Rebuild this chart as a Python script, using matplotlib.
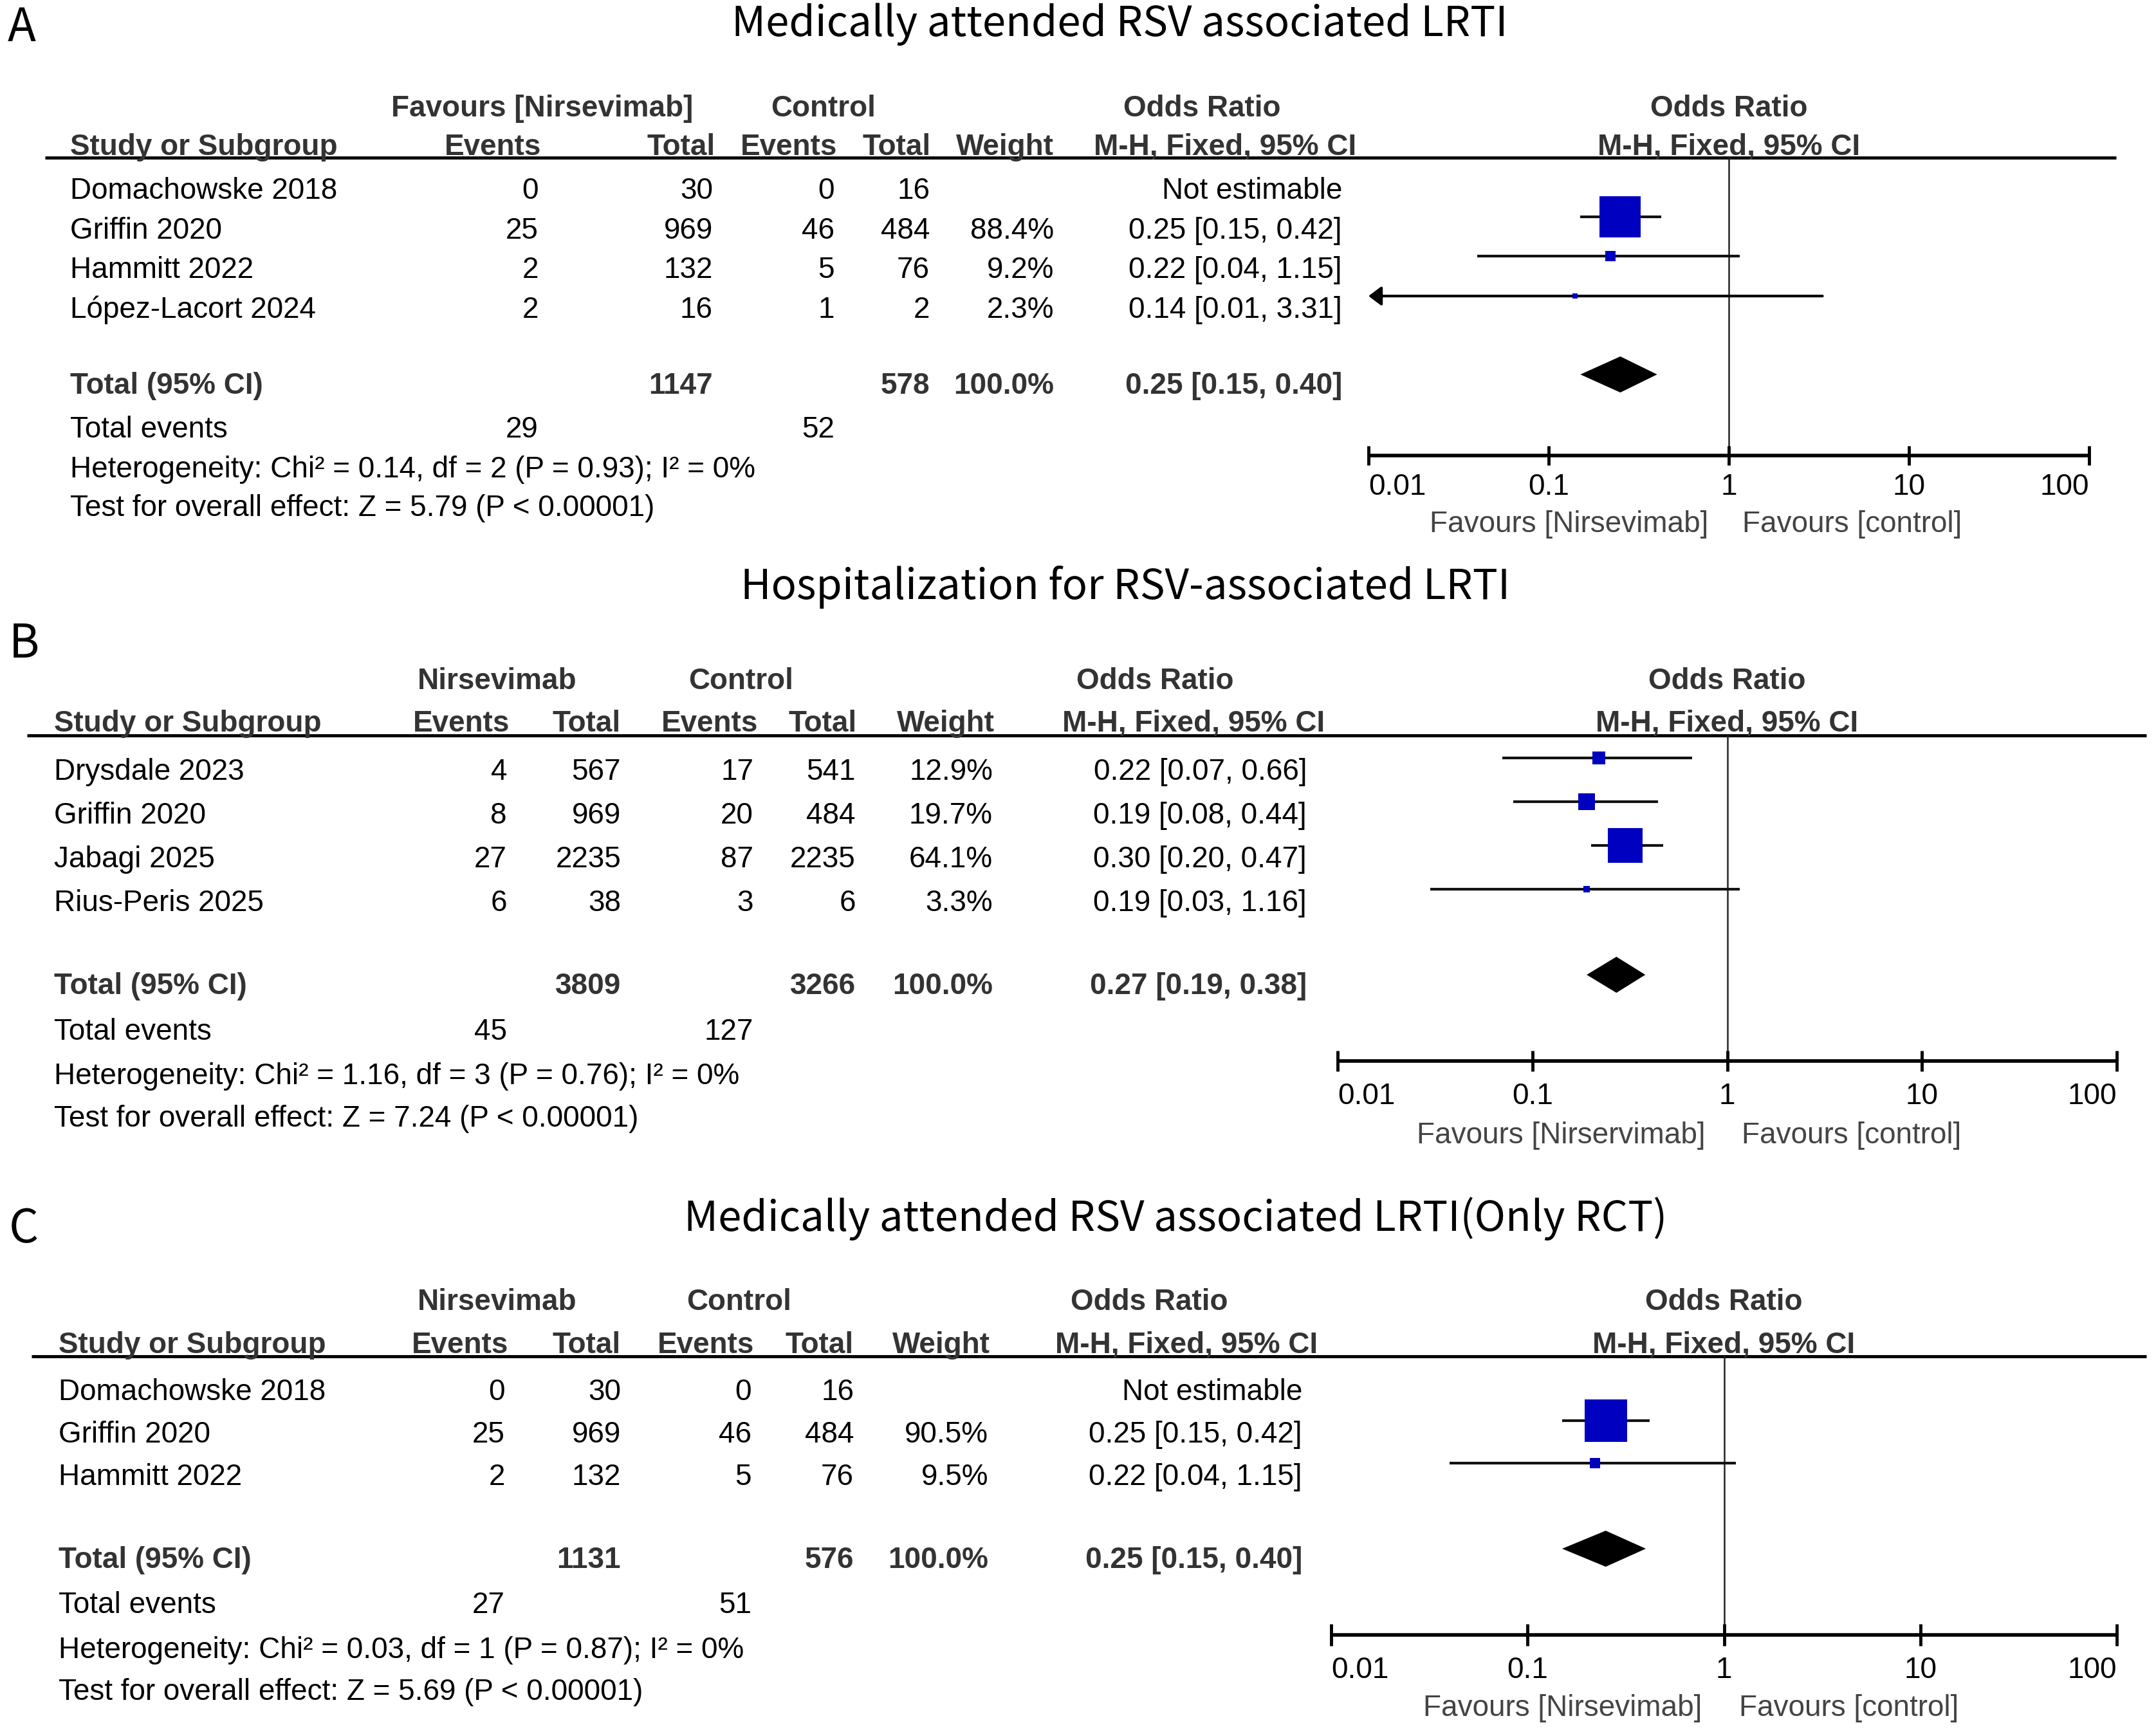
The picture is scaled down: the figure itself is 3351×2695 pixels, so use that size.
import matplotlib
matplotlib.use("Agg")
import matplotlib.pyplot as plt
from matplotlib.patches import Polygon

W, H = 3351, 2695
TABLE_FONT = "Liberation Sans"
TITLE_FONT = ["Noto Sans CJK SC", "DejaVu Sans"]
BLUE = "#0000C0"
HEAD = "#333333"
GREY = "#444444"

# ---- panel A: medically attended RSV LRTI ----
a_studies = ["Domachowske 2018", "Griffin 2020", "Hammitt 2022", "López-Lacort 2024"]
a_ev_t = [0, 25, 2, 2]
a_tot_t = [30, 969, 132, 16]
a_ev_c = [0, 46, 5, 1]
a_tot_c = [16, 484, 76, 2]
a_weight = [None, 88.4, 9.2, 2.3]
a_or = [None, 0.25, 0.22, 0.14]
a_lo = [None, 0.15, 0.04, 0.01]
a_hi = [None, 0.42, 1.15, 3.31]
a_pooled = [0.25, 0.15, 0.40]
a_sum_tot = [1147, 578]
a_sum_ev = [29, 52]
a_het = "Heterogeneity: Chi² = 0.14, df = 2 (P = 0.93); I² = 0%"
a_test = "Test for overall effect: Z = 5.79 (P < 0.00001)"

# ---- panel B: hospitalization ----
b_studies = ["Drysdale 2023", "Griffin 2020", "Jabagi 2025", "Rius-Peris 2025"]
b_ev_t = [4, 8, 27, 6]
b_tot_t = [567, 969, 2235, 38]
b_ev_c = [17, 20, 87, 3]
b_tot_c = [541, 484, 2235, 6]
b_weight = [12.9, 19.7, 64.1, 3.3]
b_or = [0.22, 0.19, 0.30, 0.19]
b_lo = [0.07, 0.08, 0.20, 0.03]
b_hi = [0.66, 0.44, 0.47, 1.16]
b_pooled = [0.27, 0.19, 0.38]
b_sum_tot = [3809, 3266]
b_sum_ev = [45, 127]
b_het = "Heterogeneity: Chi² = 1.16, df = 3 (P = 0.76); I² = 0%"
b_test = "Test for overall effect: Z = 7.24 (P < 0.00001)"

# ---- panel C: RCT only ----
c_studies = ["Domachowske 2018", "Griffin 2020", "Hammitt 2022"]
c_ev_t = [0, 25, 2]
c_tot_t = [30, 969, 132]
c_ev_c = [0, 46, 5]
c_tot_c = [16, 484, 76]
c_weight = [None, 90.5, 9.5]
c_or = [None, 0.25, 0.22]
c_lo = [None, 0.15, 0.04]
c_hi = [None, 0.42, 1.15]
c_pooled = [0.25, 0.15, 0.40]
c_sum_tot = [1131, 576]
c_sum_ev = [27, 51]
c_het = "Heterogeneity: Chi² = 0.03, df = 1 (P = 0.87); I² = 0%"
c_test = "Test for overall effect: Z = 5.69 (P < 0.00001)"

tick_vals = [0.01, 0.1, 1, 10, 100]
tick_labels = ["0.01", "0.1", "1", "10", "100"]
head_labels = ["Events", "Total", "Events", "Total", "Weight", "M-H, Fixed, 95% CI"]

panels = [
    dict(tag="A", title="Medically attended RSV associated LRTI",
         group="Favours [Nirsevimab]", fav_left="Favours [Nirsevimab]",
         studies=a_studies, ev_t=a_ev_t, tot_t=a_tot_t, ev_c=a_ev_c, tot_c=a_tot_c,
         weight=a_weight, orr=a_or, lo=a_lo, hi=a_hi, pooled=a_pooled,
         sum_tot=a_sum_tot, sum_ev=a_sum_ev, het=a_het, test=a_test),
    dict(tag="B", title="Hospitalization for RSV-associated LRTI",
         group="Nirsevimab", fav_left="Favours [Nirservimab]",
         studies=b_studies, ev_t=b_ev_t, tot_t=b_tot_t, ev_c=b_ev_c, tot_c=b_tot_c,
         weight=b_weight, orr=b_or, lo=b_lo, hi=b_hi, pooled=b_pooled,
         sum_tot=b_sum_tot, sum_ev=b_sum_ev, het=b_het, test=b_test),
    dict(tag="C", title="Medically attended RSV associated LRTI(Only RCT)",
         group="Nirsevimab", fav_left="Favours [Nirsevimab]",
         studies=c_studies, ev_t=c_ev_t, tot_t=c_tot_t, ev_c=c_ev_c, tot_c=c_tot_c,
         weight=c_weight, orr=c_or, lo=c_lo, hi=c_hi, pooled=c_pooled,
         sum_tot=c_sum_tot, sum_ev=c_sum_ev, het=c_het, test=c_test),
]

# pixel layout of each panel (positions only)
layouts = [
    dict(letter=(12, 44), title_xy=(1740, 38), head_base=(181, 241),
         group_x=(843, 1280, 1868), study_x=109,
         head_cols=(841, 1112, 1301, 1447, 1638, 2108),
         num_cols=(837, 1108, 1297, 1445, 1638, 2086),
         line=(70, 3289, 245), row0=309, step=61.7,
         total=612, events=680, het=742, test=802,
         x001=2127, x100=3247, axis_y=708, tick_h=15, tick_y=757, fav_y=815),
    dict(letter=(14, 1002), title_xy=(1749, 912), head_base=(1071, 1137),
         group_x=(773, 1152, 1795), study_x=84,
         head_cols=(792, 965, 1178, 1332, 1546, 2059),
         num_cols=(788, 965, 1171, 1330, 1543, 2031),
         line=(42, 3336, 1143), row0=1212, step=68,
         total=1545, events=1616, het=1685, test=1751,
         x001=2079, x100=3290, axis_y=1649, tick_h=16, tick_y=1704, fav_y=1765),
    dict(letter=(14, 1910), title_xy=(1827, 1894), head_base=(2036, 2103),
         group_x=(773, 1149, 1786), study_x=91,
         head_cols=(790, 965, 1172, 1327, 1539, 2048),
         num_cols=(785, 965, 1168, 1327, 1536, 2024),
         line=(49, 3336, 2108), row0=2176, step=66,
         total=2437, events=2507, het=2577, test=2642,
         x001=2069, x100=3290, axis_y=2541, tick_h=17, tick_y=2596, fav_y=2655),
]

FS = 33
bold = dict(family=TABLE_FONT, fontsize=FS, fontweight="bold", color=HEAD)
reg = dict(family=TABLE_FONT, fontsize=FS, color="black")


def fmt_ci(o, lo, hi):
    return f"{o:.2f} [{lo:.2f}, {hi:.2f}]"


def draw_panel(fig, bg, d, lay):
    bg.text(*lay["letter"], d["tag"], family=TITLE_FONT, fontsize=52, fontweight="medium",
            ha="left", va="center")
    bg.text(*lay["title_xy"], d["title"], family=TITLE_FONT, fontsize=47, fontweight="medium",
            ha="center", va="center")

    y1, y2 = lay["head_base"]
    for x, lab in zip(lay["group_x"], [d["group"], "Control", "Odds Ratio"]):
        bg.text(x, y1, lab, ha="center", va="baseline", **bold)
    bg.text(lay["study_x"], y2, "Study or Subgroup", ha="left", va="baseline", **bold)
    for x, lab in zip(lay["head_cols"], head_labels):
        bg.text(x, y2, lab, ha="right", va="baseline", **bold)
    x0, x1, ly = lay["line"]
    bg.plot([x0, x1], [ly, ly], color="black", lw=3.5, solid_capstyle="butt")

    # forest axes: log x, pixel y
    ax = fig.add_axes([lay["x001"] / W, 0, (lay["x100"] - lay["x001"]) / W, 1])
    ax.set_xscale("log")
    ax.set_xlim(0.01, 100)
    ax.set_ylim(H, 0)
    ax.axis("off")
    ax.patch.set_visible(False)

    ax.text(1, y1, "Odds Ratio", ha="center", va="baseline", **bold)
    ax.text(1, y2, "M-H, Fixed, 95% CI", ha="center", va="baseline", **bold)

    cols = lay["num_cols"]
    for i, name in enumerate(d["studies"]):
        yb = lay["row0"] + i * lay["step"]
        bg.text(lay["study_x"], yb, name, ha="left", va="baseline", **reg)
        vals = [d["ev_t"][i], d["tot_t"][i], d["ev_c"][i], d["tot_c"][i]]
        for x, v in zip(cols[:4], vals):
            bg.text(x, yb, str(v), ha="right", va="baseline", **reg)
        w = d["weight"][i]
        if w is None:
            bg.text(cols[5], yb, "Not estimable", ha="right", va="baseline", **reg)
            continue
        bg.text(cols[4], yb, f"{w:.1f}%", ha="right", va="baseline", **reg)
        o, lo, hi = d["orr"][i], d["lo"][i], d["hi"][i]
        bg.text(cols[5], yb, fmt_ci(o, lo, hi), ha="right", va="baseline", **reg)
        ym = yb - 34
        if lo <= 0.01:
            ax.annotate("", xy=(0.01, ym), xytext=(hi, ym),
                        arrowprops=dict(arrowstyle="-|>,head_length=0.6,head_width=0.45",
                                        lw=3.0, color="black", shrinkA=0, shrinkB=0,
                                        mutation_scale=20), annotation_clip=False)
        else:
            ax.plot([lo, hi], [ym, ym], color="#111111", lw=3.0, solid_capstyle="butt",
                    clip_on=False, zorder=2)
        side_pt = 4.4 * w ** 0.6 * 0.72
        ax.scatter([o], [ym], marker="s", s=side_pt ** 2, color=BLUE, linewidths=0,
                   zorder=3, clip_on=False)

    # totals
    yt = lay["total"]
    bg.text(lay["study_x"], yt, "Total (95% CI)", ha="left", va="baseline", **bold)
    bg.text(cols[1], yt, str(d["sum_tot"][0]), ha="right", va="baseline", **bold)
    bg.text(cols[3], yt, str(d["sum_tot"][1]), ha="right", va="baseline", **bold)
    bg.text(cols[4], yt, "100.0%", ha="right", va="baseline", **bold)
    po, plo, phi = d["pooled"]
    bg.text(cols[5], yt, fmt_ci(po, plo, phi), ha="right", va="baseline", **bold)
    yc, hh = yt - 30, 28
    ax.add_patch(Polygon([(plo, yc), (po, yc - hh), (phi, yc), (po, yc + hh)],
                         closed=True, facecolor="black", edgecolor="none", clip_on=False))

    ye = lay["events"]
    bg.text(lay["study_x"], ye, "Total events", ha="left", va="baseline", **reg)
    bg.text(cols[0], ye, str(d["sum_ev"][0]), ha="right", va="baseline", **reg)
    bg.text(cols[2], ye, str(d["sum_ev"][1]), ha="right", va="baseline", **reg)
    bg.text(lay["study_x"], lay["het"], d["het"], ha="left", va="baseline", **reg)
    bg.text(lay["study_x"], lay["test"], d["test"], ha="left", va="baseline", **reg)

    # null line and x axis
    ay = lay["axis_y"]
    ax.plot([1, 1], [ly, ay], color="#222222", lw=1.8, clip_on=False, zorder=1)
    ax.plot([0.01, 100], [ay, ay], color="black", lw=4, solid_capstyle="butt", clip_on=False)
    ax.vlines(tick_vals, ay - lay["tick_h"], ay + lay["tick_h"], color="black", lw=3.5,
              clip_on=False)
    for k, (t, lab) in enumerate(zip(tick_vals, tick_labels)):
        ha = "left" if k == 0 else ("right" if k == len(tick_vals) - 1 else "center")
        ax.text(t, lay["tick_y"], lab, ha=ha, va="center", **reg)
    ax.text(0.77, lay["fav_y"], d["fav_left"], ha="right", va="center",
            family=TABLE_FONT, fontsize=FS, color=GREY)
    ax.text(1.19, lay["fav_y"], "Favours [control]", ha="left", va="center",
            family=TABLE_FONT, fontsize=FS, color=GREY)


def main() -> None:
    fig = plt.figure(figsize=(W / 100, H / 100), dpi=100)
    bg = fig.add_axes([0, 0, 1, 1])
    bg.set_xlim(0, W)
    bg.set_ylim(H, 0)
    bg.axis("off")
    for d, lay in zip(panels, layouts):
        draw_panel(fig, bg, d, lay)
    fig.savefig("out.png", dpi=100)
    plt.close(fig)


if __name__ == "__main__":
    main()
